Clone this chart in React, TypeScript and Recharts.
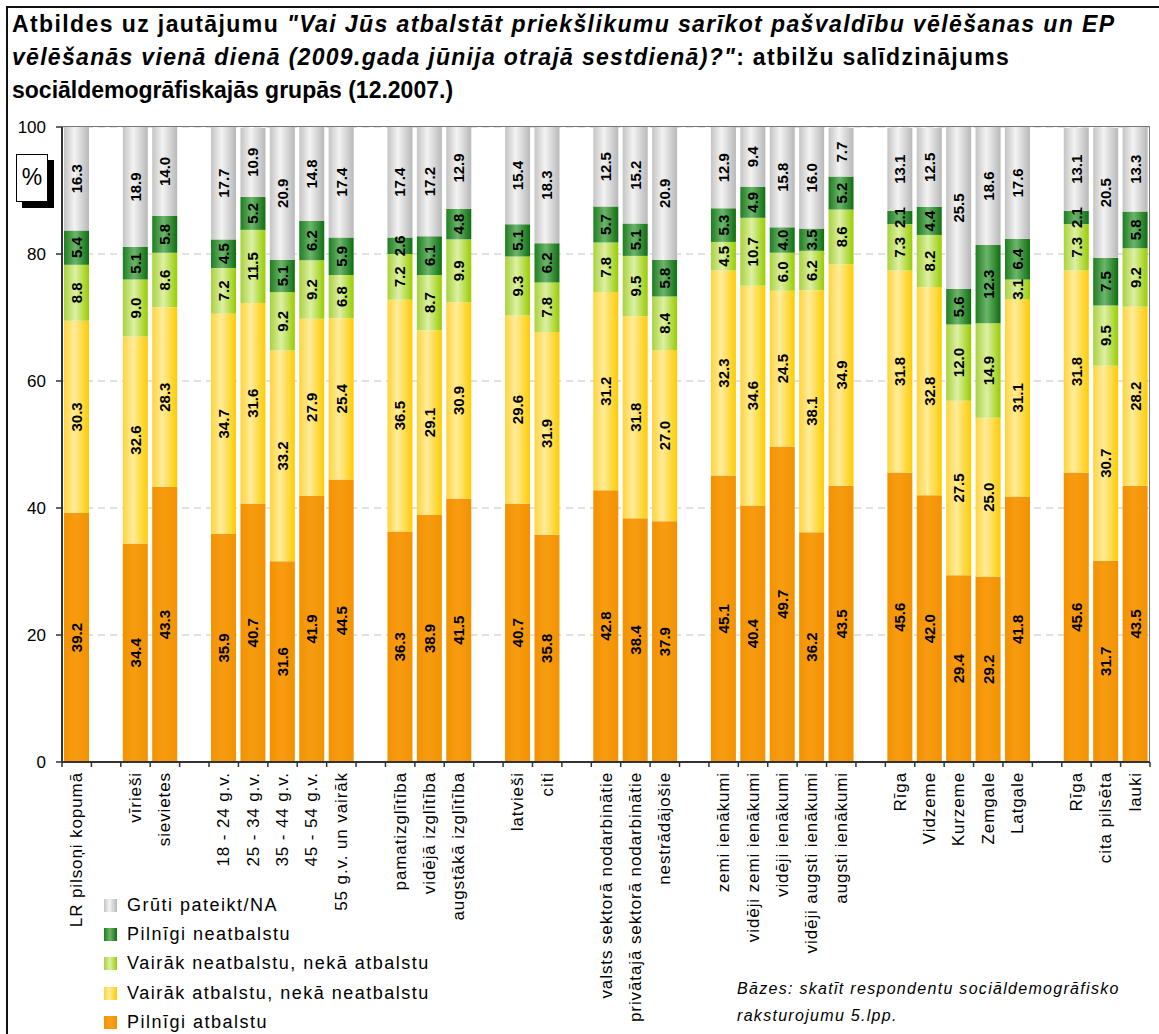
import React from "react";
import { BarChart, Bar, XAxis, YAxis, CartesianGrid, LabelList } from "recharts";

// slots incl. empty gap columns between groups
const CATEGORIES = [
  "LR pilsoņi kopumā", "",
  "vīrieši", "sievietes", "",
  "18 - 24 g.v.", "25 - 34 g.v.", "35 - 44 g.v.", "45 - 54 g.v.", "55 g.v. un vairāk", "",
  "pamatizglītība", "vidējā izglītība", "augstākā izglītība", "",
  "latvieši", "citi", "",
  "valsts sektorā nodarbinātie", "privātajā sektorā nodarbinātie", "nestrādājošie", "",
  "zemi ienākumi", "vidēji zemi ienākumi", "vidēji ienākumi", "vidēji augsti ienākumi", "augsti ienākumi", "",
  "Rīga", "Vidzeme", "Kurzeme", "Zemgale", "Latgale", "",
  "Rīga", "cita pilsēta", "lauki",
];

const PILNIGI_ATBALSTU = [
  39.2, null,
  34.4, 43.3, null,
  35.9, 40.7, 31.6, 41.9, 44.5, null,
  36.3, 38.9, 41.5, null,
  40.7, 35.8, null,
  42.8, 38.4, 37.9, null,
  45.1, 40.4, 49.7, 36.2, 43.5, null,
  45.6, 42.0, 29.4, 29.2, 41.8, null,
  45.6, 31.7, 43.5,
];

const VAIRAK_ATBALSTU = [
  30.3, null,
  32.6, 28.3, null,
  34.7, 31.6, 33.2, 27.9, 25.4, null,
  36.5, 29.1, 30.9, null,
  29.6, 31.9, null,
  31.2, 31.8, 27.0, null,
  32.3, 34.6, 24.5, 38.1, 34.9, null,
  31.8, 32.8, 27.5, 25.0, 31.1, null,
  31.8, 30.7, 28.2,
];

const VAIRAK_NEATBALSTU = [
  8.8, null,
  9.0, 8.6, null,
  7.2, 11.5, 9.2, 9.2, 6.8, null,
  7.2, 8.7, 9.9, null,
  9.3, 7.8, null,
  7.8, 9.5, 8.4, null,
  4.5, 10.7, 6.0, 6.2, 8.6, null,
  7.3, 8.2, 12.0, 14.9, 3.1, null,
  7.3, 9.5, 9.2,
];

const PILNIGI_NEATBALSTU = [
  5.4, null,
  5.1, 5.8, null,
  4.5, 5.2, 5.1, 6.2, 5.9, null,
  2.6, 6.1, 4.8, null,
  5.1, 6.2, null,
  5.7, 5.1, 5.8, null,
  5.3, 4.9, 4.0, 3.5, 5.2, null,
  2.1, 4.4, 5.6, 12.3, 6.4, null,
  2.1, 7.5, 5.8,
];

const GRUTI_PATEIKT = [
  16.3, null,
  18.9, 14.0, null,
  17.7, 10.9, 20.9, 14.8, 17.4, null,
  17.4, 17.2, 12.9, null,
  15.4, 18.3, null,
  12.5, 15.2, 20.9, null,
  12.9, 9.4, 15.8, 16.0, 7.7, null,
  13.1, 12.5, 25.5, 18.6, 17.6, null,
  13.1, 20.5, 13.3,
];

const Y_TICKS = [0, 20, 40, 60, 80, 100];

const SERIES = [
  { key: "pa", name: "Pilnīgi atbalstu", values: PILNIGI_ATBALSTU, grad: "gOrange", css: "linear-gradient(90deg,#F39200,#F7A01E 45%,#F39200)" },
  { key: "va", name: "Vairāk atbalstu, nekā neatbalstu", values: VAIRAK_ATBALSTU, grad: "gYellow", css: "linear-gradient(90deg,#FFD43A,#FFEC9C 40%,#FFCC00)" },
  { key: "vn", name: "Vairāk neatbalstu, nekā atbalstu", values: VAIRAK_NEATBALSTU, grad: "gLight", css: "linear-gradient(90deg,#A9D23C,#DDF0A6 45%,#99CC00)" },
  { key: "pn", name: "Pilnīgi neatbalstu", values: PILNIGI_NEATBALSTU, grad: "gDark", css: "linear-gradient(90deg,#1F7D1F,#6CB56C 45%,#0F6E0F)" },
  { key: "gp", name: "Grūti pateikt/NA", values: GRUTI_PATEIKT, grad: "gGray", css: "linear-gradient(90deg,#C4C4C4,#F3F3F3 42%,#B8B8B8)" },
];

const data = CATEGORIES.map((c, i) => {
  const row: any = { slot: i };
  SERIES.forEach((s) => (row[s.key] = s.values[i]));
  return row;
});

const FONT = "Arial, 'Liberation Sans', sans-serif";
const PLOT_LEFT = 62;
const PLOT_TOP = 127;
const PLOT_W = 1088;
const PLOT_H = 635;
const SLOT_W = PLOT_W / CATEGORIES.length;

function SegmentLabel(props: any) {
  const vb = props.viewBox || {};
  const x = props.x ?? vb.x;
  const y = props.y ?? vb.y;
  const width = props.width ?? vb.width;
  const height = props.height ?? vb.height;
  const { value } = props;
  if (value == null || x == null) return null;
  const cx = x + width / 2;
  const cy = y + height / 2;
  return (
    <text
      x={cx}
      y={cy}
      transform={`rotate(-90 ${cx} ${cy})`}
      textAnchor="middle"
      dominantBaseline="central"
      fontFamily={FONT}
      fontSize={15}
      fontWeight="bold"
      fill="#000"
    >
      {Number(value).toFixed(1)}
    </text>
  );
}

function CategoryTick(props: any) {
  const { x, y, payload } = props;
  const i = Number(payload.value);
  const label = CATEGORIES[i];
  const left = x - SLOT_W / 2;
  return (
    <g>
      <line x1={left} x2={left} y1={y} y2={y + 5} stroke="#333" strokeWidth={1.5} />
      {i === CATEGORIES.length - 1 && (
        <line x1={x + SLOT_W / 2} x2={x + SLOT_W / 2} y1={y} y2={y + 5} stroke="#333" strokeWidth={1.5} />
      )}
      {label && (
        <text
          transform={`translate(${x},${y + 10}) rotate(-90)`}
          textAnchor="end"
          dominantBaseline="central"
          fontFamily={FONT}
          fontSize={17}
          letterSpacing={0.9}
          fill="#000"
        >
          {label}
        </text>
      )}
    </g>
  );
}

export default function App() {
  return (
    <div
      style={{
        position: "fixed",
        left: 0,
        top: 0,
        width: 1159,
        height: 1034,
        overflow: "hidden",
        background: "#fff",
        fontFamily: FONT,
      }}
    >
      {/* outer frame */}
      <div
        style={{
          position: "absolute",
          left: 6,
          top: 6,
          width: 1200,
          height: 1100,
          border: "2px solid #111",
        }}
      />

      {/* title */}
      <div
        style={{
          position: "absolute",
          left: 12,
          top: 8,
          fontSize: 23,
          fontWeight: "bold",
          lineHeight: "33px",
          whiteSpace: "nowrap",
          color: "#000",
        }}
      >
        <div style={{ letterSpacing: 1.4 }}>
          Atbildes uz jautājumu{" "}
          <i>"Vai Jūs atbalstāt priekšlikumu sarīkot pašvaldību vēlēšanas un EP</i>
        </div>
        <div style={{ letterSpacing: 1.3 }}>
          <i>vēlēšanās vienā dienā (2009.gada jūnija otrajā sestdienā)?"</i>: atbilžu salīdzinājums
        </div>
        <div style={{ letterSpacing: 0 }}>sociāldemogrāfiskajās grupās (12.2007.)</div>
      </div>

      <div style={{ position: "absolute", left: 0, top: 0 }}>
        <BarChart
          width={1159}
          height={1034}
          data={data}
          margin={{ top: PLOT_TOP, right: 1159 - PLOT_LEFT - PLOT_W, left: 0, bottom: 32 }}
          barSize={25}
        >
          <defs>
            <linearGradient id="gOrange" x1="0" y1="0" x2="1" y2="0">
              <stop offset="0" stopColor="#F39200" />
              <stop offset="0.45" stopColor="#F79C12" />
              <stop offset="1" stopColor="#F39200" />
            </linearGradient>
            <linearGradient id="gYellow" x1="0" y1="0" x2="1" y2="0">
              <stop offset="0" stopColor="#FFD43A" />
              <stop offset="0.4" stopColor="#FFEC9C" />
              <stop offset="1" stopColor="#FFCC00" />
            </linearGradient>
            <linearGradient id="gLight" x1="0" y1="0" x2="1" y2="0">
              <stop offset="0" stopColor="#A9D23C" />
              <stop offset="0.45" stopColor="#DDF0A6" />
              <stop offset="1" stopColor="#99CC00" />
            </linearGradient>
            <linearGradient id="gDark" x1="0" y1="0" x2="1" y2="0">
              <stop offset="0" stopColor="#1F7D1F" />
              <stop offset="0.45" stopColor="#6CB56C" />
              <stop offset="1" stopColor="#0F6E0F" />
            </linearGradient>
            <linearGradient id="gGray" x1="0" y1="0" x2="1" y2="0">
              <stop offset="0" stopColor="#C4C4C4" />
              <stop offset="0.42" stopColor="#F3F3F3" />
              <stop offset="1" stopColor="#B8B8B8" />
            </linearGradient>
          </defs>
          <CartesianGrid vertical={false} stroke="#C4C4C4" strokeDasharray="7 5" />
          <XAxis
            dataKey="slot"
            type="category"
            interval={0}
            height={240}
            tickSize={0}
            tickMargin={0}
            tickLine={false}
            axisLine={{ stroke: "#333", strokeWidth: 2 }}
            tick={<CategoryTick />}
          />
          <YAxis
            width={PLOT_LEFT}
            domain={[0, 100]}
            ticks={Y_TICKS}
            allowDataOverflow
            tickSize={6}
            tickMargin={10}
            axisLine={{ stroke: "#333", strokeWidth: 2 }}
            tickLine={{ stroke: "#333", strokeWidth: 1.5 }}
            tick={{ fontSize: 17, fill: "#000", fontFamily: FONT }}
          />
          {SERIES.map((s) => (
            <Bar key={s.key} dataKey={s.key} name={s.name} stackId="a" fill={`url(#${s.grad})`} isAnimationActive={false}>
              <LabelList dataKey={s.key} content={<SegmentLabel />} />
            </Bar>
          ))}
        </BarChart>
      </div>

      {/* plot area border (top and right) */}
      <div
        style={{
          position: "absolute",
          left: PLOT_LEFT,
          top: PLOT_TOP - 1,
          width: PLOT_W,
          height: PLOT_H,
          borderTop: "1.5px solid #777",
          borderRight: "1.5px solid #777",
          boxSizing: "border-box",
          pointerEvents: "none",
        }}
      />

      {/* % badge */}
      <div
        style={{
          position: "absolute",
          left: 16,
          top: 154,
          width: 30,
          height: 46,
          border: "1px solid #000",
          background: "#fff",
          boxShadow: "6px 6px 0 #000",
          fontSize: 23,
          lineHeight: "44px",
          textAlign: "center",
          color: "#000",
        }}
      >
        %
      </div>

      {/* legend */}
      <div style={{ position: "absolute", left: 104, top: 891 }}>
        {[...SERIES].reverse().map((s) => (
          <div key={s.key} style={{ display: "flex", alignItems: "center", height: 29.2 }}>
            <span style={{ width: 13, height: 13, background: s.css, display: "inline-block", marginRight: 10 }} />
            <span style={{ fontSize: 18, letterSpacing: 1.5, color: "#000" }}>{s.name}</span>
          </div>
        ))}
      </div>

      {/* note */}
      <div
        style={{
          position: "absolute",
          left: 737,
          top: 975,
          fontSize: 16,
          fontStyle: "italic",
          letterSpacing: 1.3,
          lineHeight: "27px",
          color: "#000",
          whiteSpace: "nowrap",
        }}
      >
        Bāzes: skatīt respondentu sociāldemogrāfisko
        <br />
        raksturojumu 5.lpp.
      </div>
    </div>
  );
}
